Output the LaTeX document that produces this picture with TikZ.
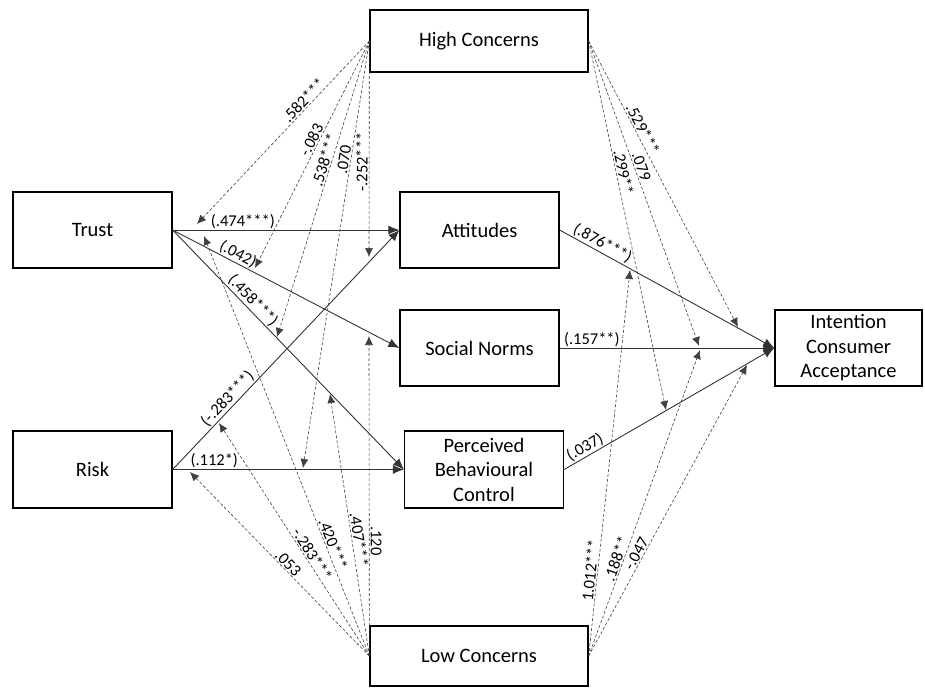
\documentclass[tikz,border=0pt]{standalone}
\usepackage{fontspec}
\setmainfont{Carlito}
\usetikzlibrary{arrows.meta,positioning}

\tikzset{
  box/.style={draw, line width=1.3pt, minimum width=159pt, minimum height=76pt,
    align=center, inner sep=2pt, font=\fontsize{20.5}{24.5}\selectfont},
  effect/.style={draw=black!80, line width=0.9pt, -{Latex[length=11pt,width=9pt]}},
  moder/.style={draw=black!75, line width=0.6pt, dash pattern=on 3pt off 2pt,
    -{Latex[length=9pt,width=8pt]}},
  coef/.style={font=\fontsize{16.5}{19}\selectfont, sloped, above, inner sep=1.2pt},
}

\begin{document}
\begin{tikzpicture}[x=1pt,y=-1pt]
  \useasboundingbox (0,0) rectangle (925,689);
  % Constructs
  \node[box] (trust) at (92.5,230) {Trust};
  \node[box, minimum height=77pt] (risk) at (92.5,469.5) {Risk};
  \node[box, minimum width=218pt, minimum height=62pt] (high) at (479,41) {High Concerns};
  \node[box, minimum width=218pt, minimum height=60pt] (low) at (479,656) {Low Concerns};
  \node[box] (att) at (479.5,230) {Attitudes};
  \node[box] (sn) at (479.5,348) {Social Norms};
  \node[box, minimum height=77pt] (pbc) at (484,469.5) {Perceived\\Behavioural\\Control};
  \node[box, minimum width=147pt] (int) at (848.5,348) {Intention\\Consumer\\Acceptance};

  % Direct paths
  \draw[effect] (trust.east) -- node[coef, pos=0.31] {(.474***)} (att.west);
  \draw[effect] (trust.east) -- node[coef, pos=0.27] {(.042)} (sn.west);
  \draw[effect] (trust.east) -- node[coef, pos=0.32] {(.458***)} (pbc.west);
  \draw[effect] (risk.east) -- node[coef, pos=0.27] {(-.283***)} (att.west);
  \draw[effect] (risk.east) -- node[coef, pos=0.18] {(.112*)} (pbc.west);
  \draw[effect] (att.east) -- node[coef, pos=0.18] {(.876***)} (int.west);
  \draw[effect] (sn.east) -- node[coef, pos=0.15] {(.157**)} (int.west);
  \draw[effect] (pbc.east) -- node[coef, pos=0.12] {(.037)} (int.west);

  % Points where the concerns meet the paths
  \coordinate (hTA) at (197,224);
  \coordinate (hTS) at (255,268);
  \coordinate (hTP) at (277,337);
  \coordinate (hRP) at (303,468);
  \coordinate (hRA) at (369,257);
  \coordinate (lRP) at (190,472);
  \coordinate (lRA) at (219,423);
  \coordinate (lTA) at (204,236);
  \coordinate (lTP) at (330,394);
  \coordinate (lTS) at (369,336);
  \coordinate (hAI) at (738,327);
  \coordinate (hSI) at (699,346);
  \coordinate (hPI) at (666,410);
  \coordinate (lAI) at (630,270);
  \coordinate (lSI) at (700,350);
  \coordinate (lPI) at (747,365);

  % Moderation by high concerns
  \draw[moder] (high.west) -- node[coef, pos=0.35] {.582***} (hTA);
  \draw[moder] (high.west) -- node[coef, pos=0.45] {-.083} (hTS);
  \draw[moder] (high.west) -- node[coef, pos=0.41] {.538***} (hTP);
  \draw[moder] (high.west) -- node[coef, pos=0.28] {.070} (hRP);
  \draw[moder] (high.west) -- node[coef, pos=0.56] {-.252***} (hRA);
  \draw[moder] (high.east) -- node[coef, pos=0.32] {.529***} (hAI);
  \draw[moder] (high.east) -- node[coef, pos=0.42] {.079} (hSI);
  \draw[moder] (high.east) -- node[coef, pos=0.36] {.299**} (hPI);

  % Moderation by low concerns
  \draw[moder] (low.west) -- node[coef, pos=0.48] {.053} (lRP);
  \draw[moder] (low.west) -- node[coef, pos=0.42] {-.283***} (lRA);
  \draw[moder] (low.west) -- node[coef, pos=0.26] {.420***} (lTA);
  \draw[moder] (low.west) -- node[coef, pos=0.44] {.407***} (lTP);
  \draw[moder] (low.west) -- node[coef, pos=0.36] {.120} (lTS);
  \draw[moder] (low.east) -- node[coef, pos=0.22] {1.012***} (lAI);
  \draw[moder] (low.east) -- node[coef, pos=0.31] {.188**} (lSI);
  \draw[moder] (low.east) -- node[coef, pos=0.34] {-.047} (lPI);
\end{tikzpicture}
\end{document}
